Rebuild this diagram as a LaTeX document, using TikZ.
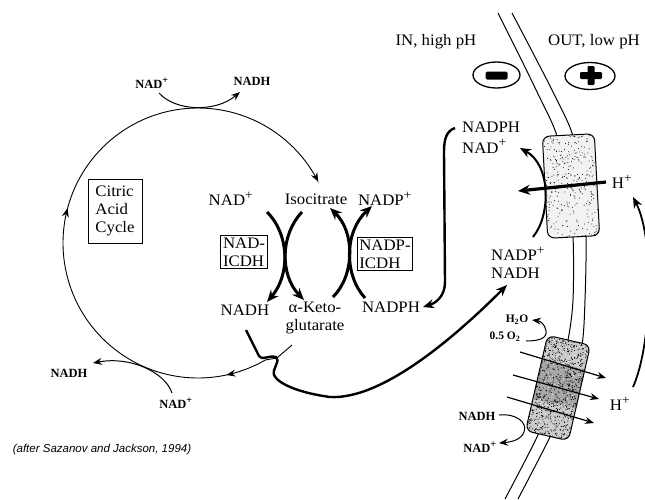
\documentclass[tikz,border=0pt]{standalone}
\usepackage{fontspec}
\setmainfont{Liberation Serif}[FakeStretch=1.05]
\newfontfamily\timesfont{Liberation Serif}
\newfontfamily\citefont{Liberation Sans}
\usetikzlibrary{arrows.meta,decorations.markings,shapes.geometric}
% a slightly larger raised plus sign for ions and oxidised cofactors
\newcommand\supplus{\textsuperscript{\scalebox{1.15}{+}}}

\begin{document}
\begin{tikzpicture}[x=1pt,y=-1pt,
  lbl/.style={inner sep=0pt, font=\fontsize{16}{18}\selectfont},
  small/.style={inner sep=0pt, font=\timesfont\bfseries\fontsize{12.5}{15}\selectfont},
  tinylbl/.style={inner sep=0pt, font=\timesfont\bfseries\fontsize{11.5}{14}\selectfont},
  boxed/.style={draw, line width=0.9pt, inner sep=3.5pt, align=left, font=\fontsize{16}{18}\selectfont},
  memb/.style={line width=1pt},
  thinarr/.style={line width=1pt, -{Stealth[length=9pt,width=7pt,inset=3pt]}},
  medarr/.style={line width=2.4pt, -{Stealth[length=11pt,width=9pt,inset=3.5pt]}},
  fatarr/.style={line width=3pt, -{Stealth[length=12pt,width=10pt,inset=4pt]}},
  chan/.style={line width=1pt, rounded corners=7pt},
  sign/.style={draw, ellipse, line width=1.3pt, inner sep=0pt}
]
\useasboundingbox (0,0) rectangle (645,499);

% ---------- membrane (two leaflets) ----------
\draw[memb] plot[smooth] coordinates {(498,13) (519,55) (539,96) (556,133) (567,180) (573,237) (573,300) (568,340) (556,390) (537,437) (505,499)};
\draw[memb] plot[smooth] coordinates {(512,13) (534,55) (555,96) (572,133) (582,180) (586,237) (585,300) (582,345) (570,392) (550,437) (518,499)};

% ---------- transhydrogenase (upper channel) ----------
\begin{scope}[shift={(571,186)}, rotate=3]
  \fill[white, rounded corners=7pt] (-26,-51) rectangle (26,51);
  \begin{scope}
    \clip[rounded corners=7pt] (-26,-51) rectangle (26,51);
    \fill[gray!10] (-26,-51) rectangle (26,51);
    \pgfmathsetseed{11}
    \foreach \k in {1,...,320} \fill ({-26+52*rnd},{-51+102*rnd}) circle (0.5);
  \end{scope}
  \draw[chan] (-26,-51) rectangle (26,51);
\end{scope}

% ---------- NADH dehydrogenase (lower channel) ----------
\begin{scope}[shift={(558,388)}, rotate=-13]
  \fill[white, rounded corners=7pt] (-22,-49) rectangle (22,49);
  \begin{scope}
    \clip[rounded corners=7pt] (-22,-49) rectangle (22,49);
    \fill[gray!40] (-22,-49) rectangle (22,49);
    \fill[gray!70] (-22,-24) rectangle (22,16);
    \pgfmathsetseed{5}
    \foreach \k in {1,...,750} \fill ({-22+44*rnd},{-49+98*rnd}) circle (0.55);
    \pgfmathsetseed{9}
    \foreach \k in {1,...,120} \fill[white] ({-22+44*rnd},{-49+98*rnd}) circle (0.5);
  \end{scope}
  \draw[chan] (-22,-49) rectangle (22,49);
\end{scope}

% ---------- compartment labels and charges ----------
\node[lbl] (inlbl) at (436,42) {IN, high pH};
\node[lbl] (outlbl) at (594,42) {OUT, low pH};
\node[sign, minimum width=47pt, minimum height=26pt] (minus) at (496.5,75) {};
\node[sign, minimum width=50pt, minimum height=27pt] (plus) at (590,76) {};
\fill[rounded corners=1.5pt] (485.5,71.5) rectangle (507.5,79.5);
\fill[rounded corners=1.2pt] (587.5,66) rectangle (594.5,85);
\fill[rounded corners=1.2pt] (580,72) rectangle (602,79);

% ---------- citric acid cycle ----------
\node[small] (nadT) at (152,83) {NAD\supplus};
\node[small] (nadhT) at (252,81) {NADH};
\node[boxed, minimum width=54pt, minimum height=64pt] (cac) at (115,211) {Citric\\Acid\\Cycle};
\node[small] (nadhL) at (69,373) {NADH};
\node[small] (nadB) at (176,403) {NAD\supplus};

\coordinate (akgout) at (292,345);
\coordinate (akgjoin) at (277,358);
\draw[thinarr, line width=0.9pt,
  postaction={decorate},
  decoration={markings,
    mark=at position 0.109 with {\arrow{Stealth[length=9pt,width=7pt,inset=3pt]}},
    mark=at position 0.518 with {\arrow{Stealth[length=9pt,width=7pt,inset=3pt]}}}]
  (akgout) -- (akgjoin) -- plot[domain=60:333, samples=110, smooth] ({198+135*cos(\x)},{243+135*sin(\x)});

\draw[thinarr] (159,93) .. controls (175,111) and (215,113) .. (240,92);
\draw[thinarr] (172,393) .. controls (165,372) and (130,356) .. (93,363);

% ---------- isocitrate dehydrogenases ----------
\node[lbl] (nadM) at (231,199) {NAD\supplus};
\node[lbl] (iso) at (316,199) {Isocitrate};
\node[lbl] (nadpM) at (385,199) {NADP\supplus};
\node[boxed, inner sep=2.5pt] (nadI) at (244,252) {NAD-\\ICDH};
\node[boxed, inner sep=2pt] (nadpI) at (385,254) {NADP-\\ICDH};
\node[lbl] (nadhM) at (245,310) {NADH};
\node[lbl, align=center] (akg) at (315,318) {α-Keto-\\glutarate};
\node[lbl] (nadphM) at (391,307) {NADPH};

\draw[fatarr] (267,212) .. controls (290,235) and (290,275) .. (267,302);
\draw[fatarr] (302,212) .. controls (280,235) and (280,275) .. (304,300);
\draw[fatarr] (333,297) .. controls (355,275) and (355,232) .. (330,208);
\draw[fatarr] (365,298) .. controls (344,275) and (344,232) .. (372,206);

% ---------- shuttles across the inner side ----------
\node[lbl, anchor=west] (nadphR) at (462,127) {NADPH};
\node[lbl, anchor=west] (nadR) at (462,146.5) {NAD\supplus};
\node[lbl, anchor=west] (nadpR) at (491,254) {NADP\supplus};
\node[lbl, anchor=west] (nadhR) at (491,273) {NADH};

\draw[medarr] (455,128) .. controls (446,131) and (444,140) .. (444,152)
  -- (445,282) .. controls (445,296) and (436,303) .. (423,307);

\draw[medarr] (246,330) -- (259,356) .. controls (262,361) and (268,355) .. (276,357)
  .. controls (281,360) and (272,369) .. (274,375)
  .. controls (278,384) and (300,393) .. (330,397)
  .. controls (385,400) and (462,330) .. (507,285);

% ---------- proton translocation ----------
\node[lbl] (hU) at (622,182) {H\supplus};
\node[lbl] (hD) at (620,404) {H\supplus};

\draw[fatarr, line width=3.2pt] (606,182) -- (518,191);
\draw[line width=2pt, -{Stealth[length=11pt,width=9pt,inset=3.5pt]}] (533,237) .. controls (551,215) and (551,165) .. (520,148);
\draw[line width=1.8pt, -{Stealth[length=11pt,width=9pt,inset=3.5pt]}] (633,387) .. controls (652,345) and (655,240) .. (633,197);

\node[tinylbl] (water) at (517,320) {H\textsubscript{2}O};
\node[tinylbl] (oxy) at (505,337) {0.5 O\textsubscript{2}};
\draw[thinarr] (526,341) .. controls (540,341) and (547,338) .. (546,331) .. controls (545,324) and (540,321) .. (532,320);

\draw[thinarr, line width=1.2pt] (520,352) -- (606,378);
\draw[thinarr, line width=1.2pt] (513,375) -- (599,399);
\draw[thinarr, line width=1.2pt] (507,397) -- (594,423);

\node[small] (nadhD) at (477,416) {NADH};
\node[small] (nadD) at (480,447) {NAD\supplus};
\draw[thinarr] (499,415) .. controls (515,413) and (528,422) .. (524,432) .. controls (521,440) and (511,442) .. (499,443);

% ---------- source ----------
\node[inner sep=0pt, font=\citefont\itshape\fontsize{11.5}{13}\selectfont] (cite) at (102,450) {(after Sazanov and Jackson, 1994)};
\end{tikzpicture}
\end{document}
